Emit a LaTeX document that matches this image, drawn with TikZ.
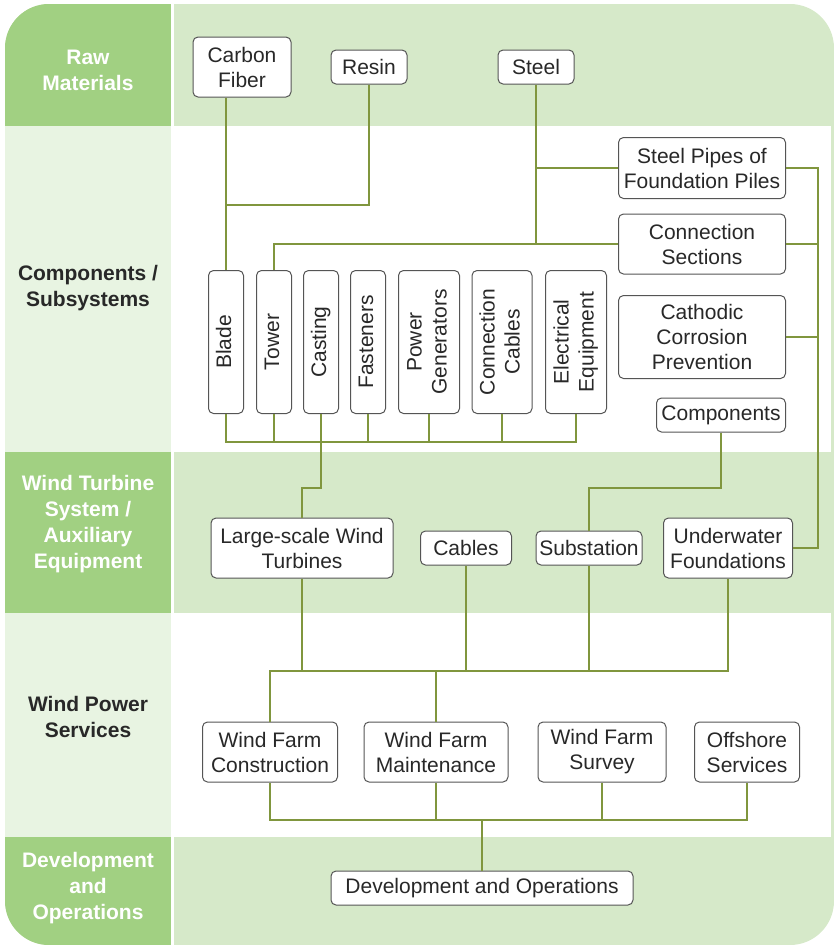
\documentclass[tikz,border=0pt]{standalone}
\usepackage{fontspec}
\setmainfont{Liberation Sans}
\usetikzlibrary{positioning}

\definecolor{bandgreen}{RGB}{161,208,130}
\definecolor{palegreen}{RGB}{214,233,201}
\definecolor{mistgreen}{RGB}{232,244,226}
\definecolor{linkolive}{RGB}{128,150,62}
\definecolor{boxgray}{RGB}{85,85,85}
\definecolor{textgray}{RGB}{40,40,40}

% rotated text for the standing boxes
\newcommand{\uptext}[1]{\rotatebox{90}{\begin{tabular}{@{}c@{}}#1\end{tabular}}}

\begin{document}
\begin{tikzpicture}[x=1pt,y=-1pt,
  box/.style={draw=boxgray,fill=white,rounded corners=5pt,line width=1pt,
    inner sep=3pt,align=center,text=textgray,font=\fontsize{21}{25}\selectfont},
  vbox/.style={box,minimum width=35pt,minimum height=143pt},
  link/.style={draw=linkolive,line width=1.6pt},
  lab/.style={align=center,font=\bfseries\fontsize{21}{26}\selectfont}]
  \useasboundingbox (0,0) rectangle (834,946);

  % bands
  \begin{scope}
    \clip[rounded corners=44pt] (5,4) rectangle (834,945);
    \fill[palegreen] (5,4) rectangle (834,945);
    \fill[bandgreen] (5,4) rectangle (171,126);
    \fill[mistgreen] (5,126) rectangle (171,452);
    \fill[bandgreen] (5,452) rectangle (171,613);
    \fill[mistgreen] (5,613) rectangle (171,837);
    \fill[bandgreen] (5,837) rectangle (171,945);
    \fill[white] (174,126) rectangle (831,452);
    \fill[white] (174,613) rectangle (831,837);
    \fill[white] (171,4) rectangle (174,945);
  \end{scope}

  \node[lab,text=white] (lraw) at (88,70) {Raw\\Materials};
  \node[lab,text=textgray] (lcomp) at (88,288) {Components /\\Subsystems};
  \node[lab,text=white] (lwts) at (88,524) {Wind Turbine\\System /\\Auxiliary\\Equipment};
  \node[lab,text=textgray] (lwps) at (88,717) {Wind Power\\Services};
  \node[lab,text=white] (ldev) at (88,888) {Development\\and\\Operations};

  % raw materials
  \node[box,minimum width=98pt,minimum height=60pt] (cf) at (242,67) {Carbon\\Fiber};
  \node[box,minimum width=76pt,minimum height=34pt] (resin) at (369,67) {Resin};
  \node[box,minimum width=76pt,minimum height=34pt] (steel) at (536,67) {Steel};

  % components
  \node[box,minimum width=167pt,minimum height=61pt] (pipes) at (702,168) {Steel Pipes of\\Foundation Piles};
  \node[box,minimum width=167pt,minimum height=60pt] (conn) at (702,244) {Connection\\Sections};
  \node[box,minimum width=167pt,minimum height=83pt] (cath) at (702,337) {Cathodic\\Corrosion\\Prevention};
  \node[box,minimum width=129pt,minimum height=34pt] (comp) at (721,415) {Components};
  \node[vbox] (blade) at (226,342) {\uptext{Blade}};
  \node[vbox] (tower) at (274,342) {\uptext{Tower}};
  \node[vbox] (cast) at (321,342) {\uptext{Casting}};
  \node[vbox] (fast) at (368,342) {\uptext{Fasteners}};
  \node[vbox,minimum width=61pt] (gen) at (429,342) {\uptext{Power\\Generators}};
  \node[vbox,minimum width=60pt] (cab) at (502,342) {\uptext{Connection\\Cables}};
  \node[vbox,minimum width=61pt] (elec) at (576,342) {\uptext{Electrical\\Equipment}};

  % wind turbine system
  \node[box,minimum width=182pt,minimum height=60pt] (lswt) at (302,548) {Large-scale Wind\\Turbines};
  \node[box,minimum width=91pt,minimum height=34pt] (cables) at (466,548) {Cables};
  \node[box,minimum width=106pt,minimum height=34pt] (sub) at (589,548) {Substation};
  \node[box,minimum width=129pt,minimum height=60pt] (uwf) at (728,548) {Underwater\\Foundations};

  % services
  \node[box,minimum width=135pt,minimum height=60pt] (wfc) at (270,752) {Wind Farm\\Construction};
  \node[box,minimum width=144pt,minimum height=60pt] (wfm) at (436,752) {Wind Farm\\Maintenance};
  \node[box,minimum width=128pt,minimum height=60pt] (wfs) at (602,752) {Wind Farm\\Survey};
  \node[box,minimum width=105pt,minimum height=60pt] (os) at (747,752) {Offshore\\Services};

  % development
  \node[box,minimum width=302pt,minimum height=34pt] (dev) at (482,888) {Development and Operations};

  % joints
  \coordinate (rj) at (226,205);
  \coordinate (rt) at (818,0);
  \coordinate (jb) at (0,442);
  \coordinate (jc) at (0,488);
  \coordinate (js) at (0,671);
  \coordinate (jd) at (0,820);

  % links
  \draw[link] (blade.north |- cf.south) -- (blade.north);
  \draw[link] (resin.south) |- (rj);
  \draw[link] (steel.south) -- (steel.south |- conn.west);
  \draw[link] (pipes.west) -- (steel.south |- pipes.west);
  \draw[link] (tower.north) |- (conn.west);
  \draw[link] (pipes.east) -- (pipes.east -| rt) |- (uwf.east);
  \draw[link] (conn.east) -- (conn.east -| rt);
  \draw[link] (cath.east) -- (cath.east -| rt);
  \draw[link] (blade.south) -- (blade.south |- jb) -- (elec.south |- jb) -- (elec.south);
  \foreach \n in {tower,fast,gen,cab}
    \draw[link] (\n.south) -- (\n.south |- jb);
  \draw[link] (cast.south) -- (cast.south |- jc) -| (lswt.north);
  \draw[link] (comp.south) -- (comp.south |- jc) -| (sub.north);
  \draw[link] (wfc.north) |- (js -| uwf.south) -- (uwf.south);
  \foreach \n in {lswt,cables,sub}
    \draw[link] (\n.south) -- (\n.south |- js);
  \draw[link] (wfm.north) -- (wfm.north |- js);
  \draw[link] (wfc.south) |- (jd -| os.south) -- (os.south);
  \foreach \n in {wfm,wfs}
    \draw[link] (\n.south) -- (\n.south |- jd);
  \draw[link] (dev.north) -- (dev.north |- jd);
\end{tikzpicture}
\end{document}
